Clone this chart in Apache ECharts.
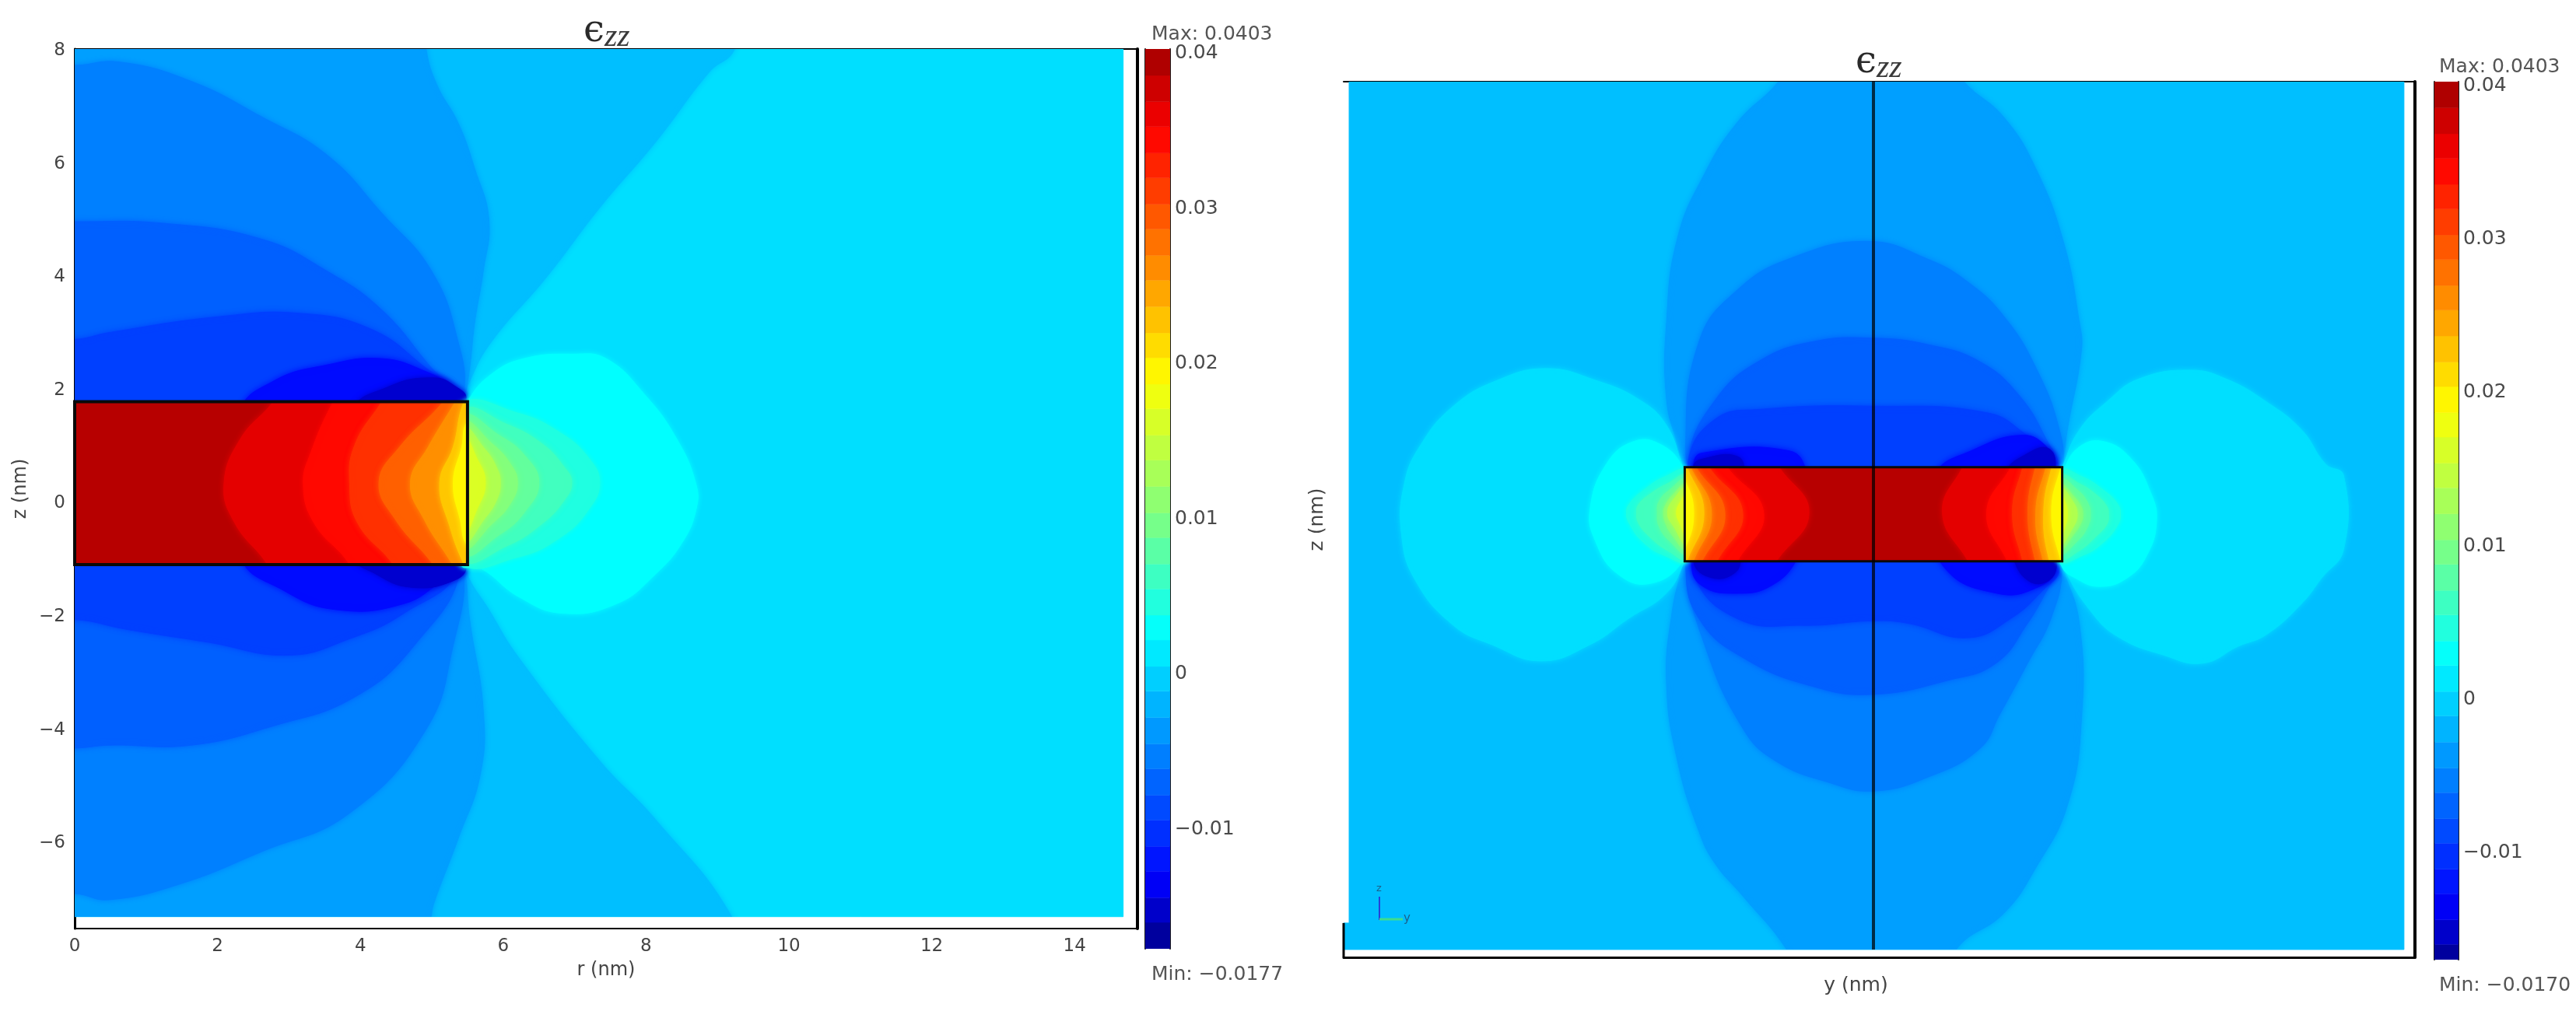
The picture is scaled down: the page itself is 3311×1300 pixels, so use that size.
<!DOCTYPE html>
<html>
<head>
<meta charset="utf-8">
<title>strain</title>
<style>
  html, body { margin: 0; padding: 0; background: #fff; }
  #holder { width: 3311px; height: 1300px; }
</style>
<script src="https://cdn.jsdelivr.net/npm/echarts@6/dist/echarts.min.js"></script>
</head>
<body>
<div id="holder"></div>
<script>
// tick labels
const rTicks = [0, 2, 4, 6, 8, 10, 12, 14]
const zTicks = [-6, -4, -2, 0, 2, 4, 6, 8]
const barTicks = [-0.01, 0, 0.01, 0.02, 0.03, 0.04]

// colorbar band edges
const barEdges = [-0.0177, -0.0160, -0.0144, -0.0127, -0.0111, -0.0094, -0.0078, -0.0061, -0.0045, -0.0028,
  -0.0011, 0.0005, 0.0022, 0.0038, 0.0055, 0.0071, 0.0088, 0.0104, 0.0121, 0.0138, 0.0154, 0.0171,
  0.0187, 0.0204, 0.0220, 0.0237, 0.0254, 0.0270, 0.0287, 0.0303, 0.0320, 0.0336, 0.0353, 0.0369, 0.0386, 0.0403]

// colormap, value -> colour
const mapValues = [-0.0177, -0.0132, 0.0027, 0.0102, 0.019, 0.035, 0.0403]
const mapColors = [[0, 0, 136], [0, 0, 255], [0, 255, 255], [128, 255, 128], [255, 255, 0], [255, 0, 0], [160, 0, 0]]

// left plot: contour level of each region, then its outline as [r, z] in nm
// outlines run past the field or rod edge where they get clipped there
const leftLevels = [0.0007, -0.0013, -0.0033, -0.0052, -0.0072, -0.0092, -0.0125, -0.015,
  0.0027, 0.0045, 0.0065, 0.0085, 0.0105, 0.0135, 0.0165,
  0.039, 0.0365, 0.0345, 0.032, 0.029, 0.026, 0.0225, 0.0195]
const leftRodStart = 15
const leftOutlines = [
  [[0, 8.03], [14.68, 8.03], [14.68, -7.3], [0, -7.3]],
  [[-2, 10], [9.7, 10], [9.24, 8.03], [8.89, 7.63], [8.13, 6.38], [7.36, 5.24], [6.6, 3.99], [5.83, 2.85], [5.53, 2.16], [5.45, 1.8], [5.3, 0.3], [5.45, -1.08], [5.83, -1.94], [6.22, -2.73], [7.36, -4.56], [8.13, -5.58], [9.2, -7.3], [9.7, -9], [-2, -9]],
  [[-2, 10], [4.7, 10], [4.92, 8.03], [5.07, 7.4], [5.37, 6.72], [5.6, 5.92], [5.8, 5.01], [5.72, 4.1], [5.6, 3.19], [5.53, 2.39], [5.45, 1.8], [5.2, 0.3], [5.45, -1.08], [5.53, -2.05], [5.72, -3.64], [5.68, -4.78], [5.37, -5.92], [5.03, -7.06], [4.99, -7.3], [4.7, -9], [-2, -9]],
  [[-2, 7.7], [0, 7.74], [0.63, 7.8], [1.63, 7.46], [2.62, 6.83], [3.54, 6.15], [4.3, 5.13], [5.0, 4.1], [5.37, 2.85], [5.45, 1.94], [5.2, 0.3], [5.45, -1.14], [5.3, -2.5], [4.92, -3.99], [3.85, -5.47], [2.62, -6.15], [1.48, -6.72], [0.48, -7.0], [0, -6.89], [-2, -6.8]],
  [[-2, 4.98], [0, 4.98], [1.25, 4.95], [2.62, 4.67], [3.54, 4.1], [4.3, 3.42], [5.0, 2.39], [5.41, 1.82], [5.2, 0.3], [5.41, -1.12], [4.76, -2.5], [3.92, -3.42], [2.78, -3.93], [1.63, -4.27], [0.48, -4.27], [0, -4.32], [-2, -4.32]],
  [[-2, 2.85], [0, 2.9], [0.48, 3.02], [2.01, 3.3], [3.16, 3.36], [4.15, 3.08], [4.92, 2.39], [5.37, 1.88], [5.2, 0.3], [5.37, -1.14], [4.61, -1.94], [3.85, -2.39], [3.0, -2.68], [1.86, -2.45], [0.71, -2.22], [0, -2.05], [-2, -2]],
  [[2.32, 1.6], [2.78, 2.16], [3.54, 2.45], [4.3, 2.56], [4.92, 2.33], [5.3, 2.05], [5.47, 1.8], [5.2, 0.3], [5.47, -1.12], [5.15, -1.37], [4.61, -1.77], [3.69, -1.88], [2.93, -1.54], [2.32, -0.9]],
  [[3.89, 1.6], [4.39, 2.06], [5.02, 2.22], [5.34, 2.06], [5.48, 1.84], [5.2, 0.3], [5.48, -1.1], [5.29, -1.37], [4.71, -1.48], [4.21, -1.24], [3.89, -0.9]],
  [[5.51, 1.82], [5.83, 2.28], [6.29, 2.56], [6.98, 2.64], [7.44, 2.56], [7.97, 1.94], [8.43, 1.14], [8.7, 0.34], [8.7, -0.11], [8.51, -0.68], [8.13, -1.25], [7.59, -1.77], [6.83, -1.94], [6.22, -1.65], [5.68, -1.14], [5.4, -1.08], [4.9, 0.37]],
  [[5.4, 1.75], [6.2, 1.6], [6.8, 1.25], [7.2, 0.8], [7.35, 0.37], [7.2, -0.1], [6.8, -0.6], [6.2, -0.95], [5.4, -1.05], [4.9, 0.37]],
  [[5.4, 1.65], [6.05, 1.4], [6.55, 1.05], [6.85, 0.65], [6.96, 0.37], [6.85, 0.05], [6.55, -0.35], [6.05, -0.75], [5.4, -1.0], [4.9, 0.37]],
  [[5.4, 1.55], [5.95, 1.2], [6.3, 0.85], [6.5, 0.37], [6.3, -0.15], [5.95, -0.55], [5.4, -0.9], [4.9, 0.37]],
  [[5.4, 1.45], [5.85, 1.05], [6.1, 0.7], [6.2, 0.37], [6.1, 0.0], [5.85, -0.35], [5.4, -0.8], [4.9, 0.37]],
  [[5.4, 1.35], [5.75, 0.95], [5.92, 0.6], [5.96, 0.37], [5.92, 0.1], [5.75, -0.25], [5.4, -0.7], [4.9, 0.37]],
  [[5.4, 1.2], [5.65, 0.75], [5.75, 0.37], [5.65, -0.05], [5.4, -0.55], [4.9, 0.37]],
  [[0, 1.8], [5.5, 1.8], [5.5, -1.08], [0, -1.08]],
  [[3.2, 2.6], [2.78, 1.8], [2.32, 1.14], [2.09, 0.34], [2.24, -0.34], [2.7, -1.08], [3.1, -2], [7, -2], [7, 2.6]],
  [[4.0, 2.6], [3.62, 1.8], [3.31, 0.91], [3.2, 0.34], [3.35, -0.34], [3.85, -1.08], [4.2, -2], [7, -2], [7, 2.6]],
  [[4.7, 2.6], [4.3, 1.8], [3.92, 1.03], [3.85, 0.34], [3.96, -0.34], [4.46, -1.08], [4.9, -2], [7, -2], [7, 2.6]],
  [[5.6, 2.6], [5.16, 1.8], [4.55, 1.0], [4.26, 0.37], [4.5, -0.3], [5.02, -1.08], [5.5, -2], [7, -2], [7, 2.6]],
  [[5.7, 2.6], [5.33, 1.8], [4.95, 1.0], [4.7, 0.37], [4.9, -0.3], [5.29, -1.08], [5.7, -2], [7, -2], [7, 2.6]],
  [[5.8, 2.6], [5.45, 1.8], [5.3, 1.0], [5.11, 0.37], [5.25, -0.4], [5.45, -1.08], [5.8, -2], [7, -2], [7, 2.6]],
  [[5.9, 1.9], [5.5, 1.45], [5.42, 1.0], [5.3, 0.37], [5.4, -0.3], [5.5, -0.75], [5.9, -1.2], [7, 0.3]]
]
const leftField = [[0, 8.03], [14.68, -7.3]]
const leftRod = [[0, 1.8], [5.5, 1.8], [5.5, -1.08], [0, -1.08]]

// right plot: same thing, outlines as [y, z] in nm
const rightLevels = [-0.0013, -0.0033, -0.0052, -0.0072, -0.0092, -0.0125, -0.0125, -0.015, -0.015,
  0.0007, 0.0007, 0.0027, 0.0027,
  0.0045, 0.0045, 0.0065, 0.0065, 0.0085, 0.0085, 0.0105, 0.0105, 0.0135, 0.0135, 0.0165, 0.0165,
  0.039, 0.0365, 0.0365, 0.0345, 0.0345, 0.032, 0.032, 0.029, 0.029, 0.026, 0.026, 0.0225, 0.0225, 0.0195, 0.0195]
const rightRodStart = 25
const rightOutlines = [
  [[-15.28, 13.6], [15.46, 13.6], [15.46, -12.96], [-15.44, -12.96], [-15.44, -12.15], [-15.28, -12.15]],
  [[-1.9, 15], [-2.77, 13.6], [-3.96, 12.36], [-4.92, 10.78], [-5.71, 8.81], [-6.03, 6.24], [-6.03, 3.87], [-5.71, 2.49], [-5.52, 1.8], [-5.2, 0.3], [-5.52, -1.07], [-5.87, -2.65], [-6.03, -4.82], [-5.71, -7.19], [-5.08, -9.36], [-4.6, -10.35], [-3.8, -11.33], [-2.53, -12.96], [-1.5, -15], [1.5, -15], [2.41, -12.96], [3.8, -11.85], [4.73, -10.46], [5.65, -8.55], [6.06, -5.94], [6.0, -2.98], [5.49, -1.15], [5.2, 0.3], [5.49, 1.72], [5.65, 2.94], [6.06, 5.37], [6.0, 6.24], [5.54, 8.68], [4.73, 10.94], [3.8, 12.51], [2.64, 13.6], [1.7, 15]],
  [[-5.47, 2.49], [-5.08, 5.65], [-3.96, 7.23], [-2.37, 8.21], [-0.14, 8.71], [1.6, 8.16], [2.76, 7.46], [3.8, 6.42], [4.73, 4.85], [5.42, 2.94], [5.51, 1.72], [5.2, 0.3], [5.49, -1.24], [5.18, -2.8], [4.49, -4.2], [3.68, -5.76], [3.1, -6.81], [1.6, -7.68], [0, -8.11], [-1.29, -7.85], [-2.85, -7.19], [-3.8, -6.2], [-4.92, -3.63], [-5.47, -1.16], [-5.2, 0.3]],
  [[-5.39, 2.09], [-4.6, 3.87], [-3.33, 5.05], [-1.73, 5.65], [0, 5.75], [1.6, 5.55], [3.1, 5.03], [4.26, 3.98], [5.07, 2.59], [5.42, 1.72], [5.2, 0.3], [5.42, -1.24], [5.07, -1.94], [4.49, -2.98], [3.57, -4.2], [2.18, -4.72], [0, -5.15], [-1.73, -4.92], [-3.8, -4.03], [-5.08, -2.84], [-5.47, -1.26], [-5.2, 0.3]],
  [[-5.39, 2.0], [-4.6, 3.28], [-3.33, 3.57], [0, 3.67], [3.34, 3.46], [4.5, 2.76], [5.07, 2.24], [5.42, 1.72], [5.2, 0.3], [5.42, -1.33], [4.96, -1.94], [4.03, -2.81], [2.76, -3.42], [1.02, -2.98], [0, -2.9], [-2.05, -3.04], [-3.96, -2.84], [-5.24, -1.46], [-5.1, 0.3]],
  [[-5.24, 1.82], [-5.01, 2.23], [-2.45, 2.3], [-1.93, 1.6], [-1.8, 0.3], [-2.22, -1.0], [-2.97, -1.82], [-3.97, -2.06], [-5.01, -1.82], [-5.3, -1.1], [-5.0, 0.3]],
  [[1.79, 1.6], [2.84, 2.3], [4.35, 2.78], [5.1, 2.37], [5.3, 1.82], [5.0, 0.3], [5.33, -1.27], [4.73, -1.9], [3.6, -2.06], [2.09, -1.3], [1.7, 0.3]],
  [[-5.24, 1.82], [-4.94, 2.06], [-3.97, 2.13], [-3.74, 1.6], [-3.7, 0.3], [-3.85, -0.9], [-4.04, -1.43], [-4.72, -1.58], [-5.24, -1.09], [-5.0, 0.3]],
  [[3.83, 1.6], [4.51, 2.23], [5.1, 2.37], [5.3, 1.82], [5.0, 0.3], [5.33, -1.1], [5.1, -1.67], [4.51, -1.67], [4.05, -0.9], [3.8, 0.3]],
  [[-5.55, 1.8], [-6.03, 3.08], [-6.83, 3.87], [-8.1, 4.46], [-9.53, 4.82], [-10.96, 4.46], [-12.24, 3.67], [-13.19, 2.49], [-13.67, 1.3], [-13.75, -0.28], [-13.35, -1.66], [-12.24, -3.04], [-11.12, -3.63], [-9.69, -4.13], [-8.26, -3.63], [-7.15, -2.84], [-6.03, -2.05], [-5.52, -1.1], [-5.0, 0.4]],
  [[5.54, 1.89], [6.0, 2.94], [6.81, 3.81], [7.73, 4.5], [9.24, 4.77], [10.28, 4.5], [11.44, 3.81], [12.48, 2.94], [13.18, 1.89], [13.7, 1.55], [13.7, -0.72], [13.06, -1.59], [12.48, -2.37], [11.44, -3.33], [10.63, -3.68], [9.59, -4.2], [8.43, -3.94], [7.16, -3.41], [6.35, -2.63], [5.54, -1.24], [5.0, 0.35]],
  [[-5.55, 1.8], [-6.19, 2.49], [-6.98, 2.59], [-7.78, 1.9], [-8.26, 0.51], [-8.1, -0.47], [-7.46, -1.46], [-6.51, -1.76], [-5.55, -1.07], [-5.0, 0.4]],
  [[5.54, 1.72], [6.0, 2.42], [6.69, 2.59], [7.5, 2.07], [8.08, 1.02], [8.25, 0.15], [7.97, -0.89], [7.39, -1.59], [6.58, -1.85], [5.88, -1.59], [5.49, -1.24], [5.0, 0.35]],
  [[-5.4, 1.7], [-6.1, 1.5], [-6.7, 1.1], [-7.1, 0.7], [-7.2, 0.4], [-7.1, 0.05], [-6.7, -0.5], [-6.1, -0.9], [-5.4, -1.05], [-5.0, 0.4]],
  [[5.4, 1.7], [6.1, 1.5], [6.7, 1.1], [7.1, 0.7], [7.2, 0.35], [7.1, 0.0], [6.7, -0.5], [6.1, -0.9], [5.4, -1.05], [5.0, 0.35]],
  [[-5.4, 1.55], [-6.0, 1.3], [-6.55, 0.95], [-6.85, 0.65], [-6.9, 0.4], [-6.85, 0.1], [-6.55, -0.3], [-6.0, -0.75], [-5.4, -1.0], [-5.0, 0.4]],
  [[5.4, 1.55], [6.0, 1.3], [6.5, 0.95], [6.8, 0.6], [6.85, 0.35], [6.8, 0.05], [6.5, -0.3], [6.0, -0.75], [5.4, -1.0], [5.0, 0.35]],
  [[-5.4, 1.45], [-5.95, 1.1], [-6.25, 0.75], [-6.3, 0.4], [-6.25, 0.0], [-5.95, -0.45], [-5.4, -0.85], [-5.0, 0.4]],
  [[5.4, 1.45], [5.95, 1.1], [6.25, 0.7], [6.32, 0.35], [6.25, 0.0], [5.95, -0.45], [5.4, -0.85], [5.0, 0.35]],
  [[-5.4, 1.3], [-5.85, 0.95], [-6.08, 0.6], [-6.12, 0.4], [-6.08, 0.15], [-5.85, -0.3], [-5.4, -0.75], [-5.0, 0.4]],
  [[5.4, 1.3], [5.8, 0.95], [6.05, 0.6], [6.1, 0.35], [6.05, 0.1], [5.8, -0.3], [5.4, -0.75], [5.0, 0.35]],
  [[-5.4, 1.2], [-5.8, 0.85], [-6.0, 0.4], [-5.8, -0.05], [-5.4, -0.6], [-5.0, 0.4]],
  [[5.4, 1.2], [5.78, 0.8], [5.94, 0.35], [5.78, -0.1], [5.4, -0.6], [5.0, 0.35]],
  [[-5.4, 1.0], [-5.65, 0.7], [-5.74, 0.4], [-5.65, 0.1], [-5.4, -0.35], [-5.0, 0.4]],
  [[5.4, 1.0], [5.6, 0.7], [5.65, 0.35], [5.6, 0.05], [5.4, -0.35], [5.0, 0.35]],
  [[-5.5, 1.8], [5.5, 1.8], [5.5, -1.08], [-5.5, -1.08]],
  [[-3.3, 2.6], [-2.75, 1.8], [-1.88, 0.4], [-2.83, -1.08], [-3.4, -2], [-7, -2], [-7, 2.6]],
  [[3.1, 2.6], [2.6, 1.8], [2.01, 0.4], [2.76, -1.08], [3.3, -2], [7, -2], [7, 2.6]],
  [[-4.7, 2.6], [-4.26, 1.8], [-3.2, 0.4], [-3.97, -1.08], [-4.5, -2], [-7, -2], [-7, 2.6]],
  [[4.4, 2.6], [4.0, 1.8], [3.3, 0.4], [3.9, -1.08], [4.3, -2], [7, -2], [7, 2.6]],
  [[-5.2, 2.6], [-4.79, 1.8], [-3.81, 0.4], [-4.56, -1.08], [-5.0, -2], [-7, -2], [-7, 2.6]],
  [[4.6, 2.6], [4.35, 1.8], [4.05, 0.4], [4.35, -1.08], [4.6, -2], [7, -2], [7, 2.6]],
  [[-5.6, 2.6], [-5.17, 1.8], [-4.33, 0.4], [-5.0, -1.08], [-5.5, -2], [-7, -2], [-7, 2.6]],
  [[5.0, 2.6], [4.72, 1.8], [4.5, 0.4], [4.72, -1.08], [5.0, -2], [7, -2], [7, 2.6]],
  [[-5.7, 2.6], [-5.33, 1.8], [-4.72, 0.4], [-5.25, -1.08], [-5.6, -2], [-7, -2], [-7, 2.6]],
  [[5.3, 2.6], [5.03, 1.8], [4.73, 0.4], [4.95, -1.08], [5.3, -2], [7, -2], [7, 2.6]],
  [[-5.8, 2.6], [-5.44, 1.8], [-4.94, 0.4], [-5.44, -1.08], [-5.8, -2], [-7, -2], [-7, 2.6]],
  [[5.5, 2.6], [5.2, 1.8], [4.96, 0.4], [5.13, -1.08], [5.5, -2], [7, -2], [7, 2.6]],
  [[-5.9, 1.9], [-5.5, 1.4], [-5.24, 0.4], [-5.5, -0.7], [-5.9, -1.2], [-7, 0.3]],
  [[5.8, 2.6], [5.47, 1.8], [5.19, 0.4], [5.47, -1.08], [5.8, -2], [7, -2], [7, 2.6]]
]
const rightField = [[-15.28, 13.6], [15.46, -12.96]]
const rightRod = [[-5.5, 1.8], [5.5, 1.8], [5.5, -1.08], [-5.5, -1.08]]
const centerLine = [[0, 13.6], [0, -12.96]]
const cornerFrame = [[-15.44, -12.15], [-15.44, -13.2]]

const FONT = '"DejaVu Sans", sans-serif'

function jet(v) {
  let k = 0
  while (k < mapValues.length - 2 && v > mapValues[k + 1]) k++
  let t = (v - mapValues[k]) / (mapValues[k + 1] - mapValues[k])
  t = Math.max(0, Math.min(1, t))
  let a = mapColors[k]
  let b = mapColors[k + 1]
  return 'rgb(' + a.map((c, i) => Math.round(c + (b[i] - c) * t)).join(',') + ')'
}

function minus(v) {
  return String(v).replace('-', '\u2212')
}

function fieldSeries(xi, yi, levels, outlines, field, rod, rodStart) {
  return {
    type: 'custom',
    xAxisIndex: xi,
    yAxisIndex: yi,
    clip: true,
    silent: true,
    z: 2,
    data: outlines.map((o, i) => [i]),
    encode: { x: -1, y: -1 },
    renderItem(params, api) {
      let i = params.dataIndex
      let c = jet(levels[i])
      let plain = i === 0 || i === rodStart
      // rod bands stay inside the rod, the rest inside the coloured field
      let a = api.coord(i > rodStart ? rod[0] : field[0])
      let b = api.coord(i > rodStart ? rod[2] : field[1])
      let el = {
        type: 'polygon',
        shape: { points: outlines[i].map(p => api.coord(p)), smooth: plain ? 0 : 0.45 },
        style: { fill: c, stroke: c, lineWidth: 1, shadowBlur: plain ? 0 : 7, shadowColor: c }
      }
      if (i > 0) {
        el.clipPath = { type: 'rect', shape: { x: a[0], y: a[1], width: b[0] - a[0], height: b[1] - a[1] } }
      }
      return el
    }
  }
}

function rodSeries(xi, yi, rod, width) {
  return {
    type: 'custom',
    xAxisIndex: xi,
    yAxisIndex: yi,
    silent: true,
    z: 3,
    data: [rod[0]],
    renderItem(params, api) {
      return {
        type: 'polygon',
        shape: { points: rod.map(p => api.coord(p)) },
        style: { fill: 'none', stroke: '#0a0a0a', lineWidth: width }
      }
    }
  }
}

function barSeries(xi, yi) {
  let bands = barEdges.slice(1).map((hi, i) => [barEdges[i], hi])
  return {
    type: 'custom',
    xAxisIndex: xi,
    yAxisIndex: yi,
    clip: true,
    silent: true,
    data: bands,
    encode: { x: -1, y: -1 },
    renderItem(params, api) {
      let b = bands[params.dataIndex]
      let p0 = api.coord([0, b[1]])
      let p1 = api.coord([1, b[0]])
      let c = jet((b[0] + b[1]) / 2)
      return {
        type: 'rect',
        shape: { x: p0[0], y: p0[1], width: p1[0] - p0[0], height: p1[1] - p0[1] },
        style: { fill: c, stroke: c, lineWidth: 0.5 }
      }
    }
  }
}

function frameAxis(position, gridIndex, min, max, width) {
  return {
    type: 'value',
    gridIndex: gridIndex,
    position: position,
    min: min,
    max: max,
    splitLine: { show: false },
    axisTick: { show: false },
    axisLabel: { show: false },
    axisLine: { show: true, onZero: false, lineStyle: { color: '#000', width: width } }
  }
}

function barAxis(position, gridIndex, min, max, labels) {
  return {
    type: 'value',
    gridIndex: gridIndex,
    position: position,
    min: min,
    max: max,
    splitLine: { show: false },
    axisLine: { show: true, onZero: false, lineStyle: { color: '#1c1c1c', width: 2 } },
    axisTick: { show: true, inside: true, length: 9, customValues: barTicks, lineStyle: { color: '#111', width: 2 } },
    axisLabel: {
      show: labels,
      customValues: barTicks,
      margin: 6,
      fontFamily: FONT,
      fontSize: 25,
      color: '#4a4a4a',
      formatter: minus
    }
  }
}

function eps(left, top) {
  return {
    text: '{e|\u03f5}{s|zz}',
    left: left,
    top: top,
    textStyle: {
      rich: {
        e: { fontFamily: '"DejaVu Serif", serif', fontWeight: 'normal', fontSize: 48, color: '#2a2a2a' },
        s: { fontFamily: '"Liberation Serif", serif', fontStyle: 'italic', fontWeight: 'normal', fontSize: 42, color: '#3a3a3a', padding: [14, 0, 0, 0] }
      }
    }
  }
}

function note(text, left, top) {
  return {
    text: text,
    left: left,
    top: top,
    textStyle: { fontFamily: FONT, fontSize: 25, fontWeight: 'normal', color: '#555' }
  }
}

var myChart = echarts.init(document.getElementById('holder'), null, { renderer: 'canvas' })

var option = {
  animation: false,
  backgroundColor: '#fff',
  title: [
    eps(745, 8),
    eps(2380, 48),
    note('Max: 0.0403', 1475, 27),
    note('Min: \u22120.0177', 1475, 1236),
    note('Max: 0.0403', 3130, 69),
    note('Min: \u22120.0170', 3130, 1250)
  ],
  grid: [
    { left: 96, top: 63, width: 1366, height: 1131 },
    { left: 1472, top: 63, width: 32, height: 1157 },
    { left: 1727, top: 105, width: 1377, height: 1126 },
    { left: 3129, top: 105, width: 31, height: 1129 }
  ],
  xAxis: [
    {
      type: 'value',
      gridIndex: 0,
      min: 0,
      max: 14.88,
      name: 'r (nm)',
      nameLocation: 'middle',
      nameGap: 42,
      nameTextStyle: { fontFamily: FONT, fontSize: 24, color: '#444' },
      splitLine: { show: false },
      axisTick: { show: false },
      axisLine: { show: true, onZero: false, lineStyle: { color: '#000', width: 2 } },
      axisLabel: { customValues: rTicks, margin: 12, fontFamily: FONT, fontSize: 23, color: '#444' }
    },
    frameAxis('top', 0, 0, 14.88, 2),
    { type: 'value', gridIndex: 1, min: 0, max: 1, show: false },
    {
      type: 'value',
      gridIndex: 2,
      min: -15.44,
      max: 15.78,
      name: 'y (nm)',
      nameLocation: 'middle',
      nameGap: 24,
      nameTextStyle: { fontFamily: FONT, fontSize: 25, color: '#444', padding: [0, 60, 0, 0] },
      splitLine: { show: false },
      axisTick: { show: false },
      axisLabel: { show: false },
      axisLine: { show: true, onZero: false, lineStyle: { color: '#000', width: 3 } }
    },
    frameAxis('top', 2, -15.44, 15.78, 2),
    { type: 'value', gridIndex: 3, min: 0, max: 1, show: false }
  ],
  yAxis: [
    {
      type: 'value',
      gridIndex: 0,
      min: -7.51,
      max: 8.03,
      name: 'z (nm)',
      nameLocation: 'middle',
      nameGap: 57,
      nameRotate: 90,
      nameTextStyle: { fontFamily: FONT, fontSize: 24, color: '#444' },
      splitLine: { show: false },
      axisTick: { show: false },
      axisLine: { show: true, onZero: false, lineStyle: { color: '#000', width: 3 } },
      axisLabel: { customValues: zTicks, margin: 12, fontFamily: FONT, fontSize: 23, color: '#444', formatter: minus }
    },
    frameAxis('right', 0, -7.51, 8.03, 4),
    barAxis('right', 1, -0.0177, 0.0403, true),
    barAxis('left', 1, -0.0177, 0.0403, false),
    {
      type: 'value',
      gridIndex: 2,
      min: -13.2,
      max: 13.6,
      name: 'z (nm)',
      nameLocation: 'middle',
      nameGap: 21,
      nameRotate: 90,
      nameTextStyle: { fontFamily: FONT, fontSize: 25, color: '#444' },
      splitLine: { show: false },
      axisTick: { show: false },
      axisLabel: { show: false },
      axisLine: { show: false }
    },
    frameAxis('right', 2, -13.2, 13.6, 4),
    barAxis('right', 3, -0.017, 0.0403, true),
    barAxis('left', 3, -0.017, 0.0403, false)
  ],
  series: [
    fieldSeries(0, 0, leftLevels, leftOutlines, leftField, leftRod, leftRodStart),
    rodSeries(0, 0, leftRod, 4),
    barSeries(2, 2),
    fieldSeries(3, 4, rightLevels, rightOutlines, rightField, rightRod, rightRodStart),
    rodSeries(3, 4, rightRod, 3),
    {
      type: 'line',
      xAxisIndex: 3,
      yAxisIndex: 4,
      data: centerLine,
      showSymbol: false,
      silent: true,
      z: 4,
      lineStyle: { color: 'rgba(0,0,0,0.72)', width: 4 }
    },
    {
      type: 'line',
      xAxisIndex: 3,
      yAxisIndex: 4,
      data: cornerFrame,
      showSymbol: false,
      silent: true,
      clip: false,
      z: 4,
      lineStyle: { color: '#000', width: 3 }
    },
    barSeries(5, 6)
  ],
  graphic: [
    { type: 'line', z: 100, shape: { x1: 1773, y1: 1153, x2: 1773, y2: 1183 }, style: { stroke: '#2540d8', lineWidth: 2 } },
    { type: 'line', z: 100, shape: { x1: 1773, y1: 1182, x2: 1803, y2: 1182 }, style: { stroke: '#3fdc8c', lineWidth: 3 } },
    { type: 'text', z: 100, x: 1804, y: 1174, style: { text: 'y', fontFamily: FONT, fontSize: 15, fill: '#1d5f8a' } },
    { type: 'text', z: 100, x: 1769, y: 1136, style: { text: 'z', fontFamily: FONT, fontSize: 13, fill: '#1d5f8a' } }
  ]
}

myChart.setOption(option)
</script>
</body>
</html>
